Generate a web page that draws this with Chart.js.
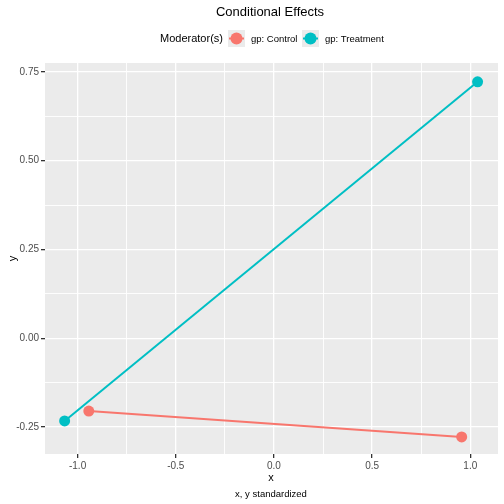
<!DOCTYPE html>
<html>
<head>
<meta charset="utf-8">
<script src="https://cdn.jsdelivr.net/npm/chart.js@4/dist/chart.umd.min.js"></script>
<style>
  html, body { margin: 0; padding: 0; background: #fff; }
  #wrap { width: 504px; height: 504px; }
</style>
</head>
<body>
<div id="wrap"><canvas id="chart" width="504" height="504"></canvas></div>
<script>
// values
const groups = ['gp: Control', 'gp: Treatment'];
const controlX = [-0.943, 0.956];
const controlY = [-0.205, -0.278];
const treatX = [-1.066, 1.037];
const treatY = [-0.233, 0.722];
const xTicks = [-1.0, -0.5, 0.0, 0.5, 1.0];
const yTicks = [-0.25, 0.00, 0.25, 0.50, 0.75];
const colors = ['#F8766D', '#00BFC4'];

const minorX = [-0.75, -0.25, 0.25, 0.75];
const minorY = [-0.125, 0.125, 0.375, 0.625];

function pts(xs, ys) { return xs.map((x, i) => ({ x: x, y: ys[i] })); }

const FONT = '"Liberation Sans", Arial, sans-serif';

// grey panel, title, legend and caption in ggplot style
const ggPlugin = {
  id: 'gg',
  beforeDraw(chart) {
    const a = chart.chartArea, c = chart.ctx;
    c.save();
    c.fillStyle = '#EBEBEB';
    c.fillRect(a.left, a.top, a.right - a.left, a.bottom - a.top);
    c.restore();
  },
  afterDraw(chart) {
    const c = chart.ctx;
    c.save();
    c.fillStyle = '#000';
    c.textBaseline = 'middle';
    c.textAlign = 'center';
    c.font = '13px ' + FONT;
    c.fillText('Conditional Effects', 270, 12);

    // legend
    c.textAlign = 'left';
    c.font = '11px ' + FONT;
    c.fillText('Moderator(s)', 160, 39);
    const keys = [228, 302];
    const labels = [251, 325];
    c.font = '9.5px ' + FONT;
    groups.forEach((g, i) => {
      c.fillStyle = '#EBEBEB';
      c.fillRect(keys[i], 30, 17, 17);
      c.strokeStyle = colors[i];
      c.lineWidth = 2;
      c.beginPath();
      c.moveTo(keys[i] + 1, 38.5); c.lineTo(keys[i] + 16, 38.5); c.stroke();
      c.fillStyle = colors[i];
      c.beginPath();
      c.arc(keys[i] + 8.5, 38.5, 6, 0, Math.PI * 2);
      c.fill();
      c.fillStyle = '#000';
      c.fillText(g, labels[i], 39);
    });

    c.textAlign = 'center';
    c.font = '11px ' + FONT;
    c.fillText('x', 271, 478);
    c.font = '9.5px ' + FONT;
    c.fillText('x, y standardized', 271, 494);
    c.restore();
  }
};

function tickSet(major, minor) {
  return major.concat(minor).sort((a, b) => a - b);
}

new Chart(document.getElementById('chart').getContext('2d'), {
  type: 'scatter',
  data: {
    datasets: [
      {
        label: groups[0],
        data: pts(controlX, controlY),
        showLine: true,
        borderColor: colors[0],
        backgroundColor: colors[0],
        borderWidth: 2,
        pointRadius: 5.5,
        pointBorderWidth: 0
      },
      {
        label: groups[1],
        data: pts(treatX, treatY),
        showLine: true,
        borderColor: colors[1],
        backgroundColor: colors[1],
        borderWidth: 2,
        pointRadius: 5.5,
        pointBorderWidth: 0
      }
    ]
  },
  options: {
    responsive: false,
    animation: false,
    layout: { padding: { top: 63, right: 6, left: 0, bottom: 0 } },
    plugins: {
      legend: { display: false },
      title: { display: false },
      tooltip: { enabled: false }
    },
    scales: {
      x: {
        type: 'linear',
        min: -1.166,
        max: 1.141,
        border: { display: false },
        afterFit(s) { s.height = 50; },
        afterBuildTicks(s) { s.ticks = tickSet(xTicks, minorX).map(v => ({ value: v })); },
        grid: {
          color: '#FFFFFF',
          lineWidth: ctx => xTicks.includes(ctx.tick.value) ? 1.3 : 0.9,
          tickColor: ctx => xTicks.includes(ctx.tick.value) ? '#333333' : 'rgba(0,0,0,0)',
          tickLength: 4,
          drawTicks: true
        },
        ticks: {
          autoSkip: false,
          maxRotation: 0,
          padding: 2,
          color: '#4D4D4D',
          font: { family: FONT, size: 10 },
          callback: v => xTicks.includes(v) ? v.toFixed(1) : ''
        }
      },
      y: {
        type: 'linear',
        min: -0.326,
        max: 0.775,
        border: { display: false },
        afterFit(s) { s.width = 45; },
        afterBuildTicks(s) { s.ticks = tickSet(yTicks, minorY).map(v => ({ value: v })); },
        grid: {
          color: '#FFFFFF',
          lineWidth: ctx => yTicks.includes(ctx.tick.value) ? 1.3 : 0.9,
          tickColor: ctx => yTicks.includes(ctx.tick.value) ? '#333333' : 'rgba(0,0,0,0)',
          tickLength: 4,
          drawTicks: true
        },
        title: {
          display: true,
          text: 'y',
          color: '#000',
          font: { family: FONT, size: 11 },
          padding: { top: 6, bottom: 0 }
        },
        ticks: {
          autoSkip: false,
          padding: 2,
          color: '#4D4D4D',
          font: { family: FONT, size: 10 },
          callback: v => yTicks.includes(v) ? v.toFixed(2) : ''
        }
      }
    }
  },
  plugins: [ggPlugin]
});
</script>
</body>
</html>
